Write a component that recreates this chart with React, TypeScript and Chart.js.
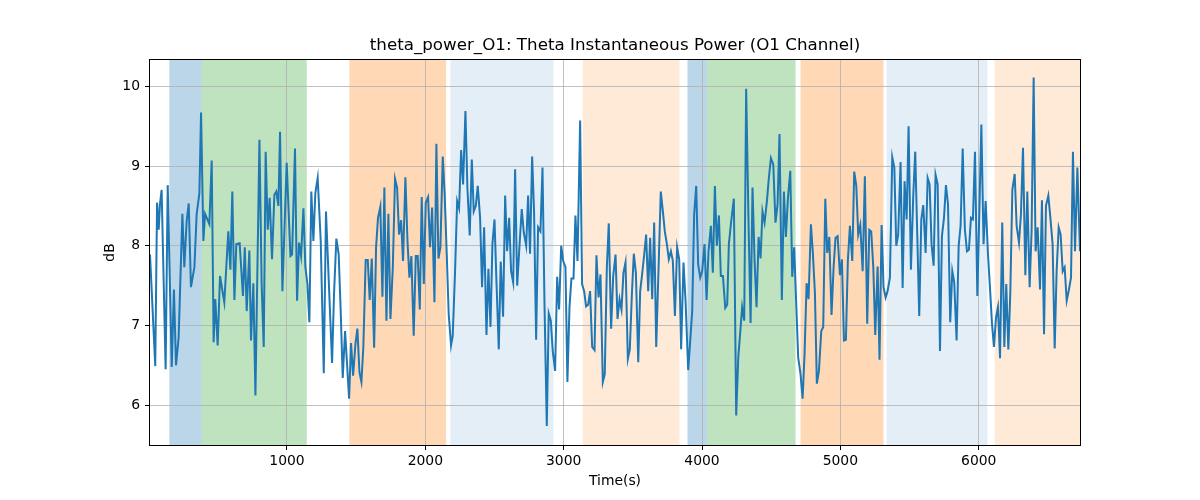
import React, { useEffect, useRef } from "react";
import { Chart, registerables } from "chart.js";

Chart.register(...registerables);

const titleText = "theta_power_O1: Theta Instantaneous Power (O1 Channel)";
const xLabel = "Time(s)";
const yLabel = "dB";

const xTicks = [1000, 2000, 3000, 4000, 5000, 6000];
const yTicks = [6, 7, 8, 9, 10];
const xMin = 10;
const xMax = 6732;
const yMin = 5.5;
const yMax = 10.33;

const times = [
  10, 48, 61, 73, 82, 94, 123, 138, 167, 183, 198, 217, 244, 258, 275, 290, 306, 331, 347, 367,
  379, 396, 408, 439, 456, 470, 482, 499, 516, 547, 576, 591, 605, 620, 634, 658, 682, 695, 709, 728,
  740, 757, 772, 801, 817, 832, 846, 861, 875, 892, 909, 923, 938, 950, 967, 998, 1025, 1037, 1058, 1073,
  1087, 1102, 1119, 1133, 1148, 1162, 1176, 1191, 1205, 1222, 1244, 1266, 1282, 1302, 1326, 1340, 1357, 1374, 1389, 1403,
  1420, 1430, 1449, 1463, 1478, 1495, 1509, 1524, 1538, 1552, 1569, 1584, 1598, 1613, 1630, 1644, 1658, 1675, 1690, 1704,
  1719, 1733, 1748, 1765, 1781, 1796, 1810, 1825, 1839, 1856, 1871, 1885, 1899, 1916, 1931, 1945, 1960, 1974, 1989, 2003,
  2020, 2034, 2049, 2066, 2080, 2095, 2109, 2126, 2140, 2155, 2169, 2186, 2198, 2215, 2230, 2244, 2259, 2273, 2290, 2304,
  2321, 2336, 2350, 2365, 2379, 2396, 2410, 2425, 2442, 2456, 2471, 2485, 2500, 2514, 2531, 2545, 2562, 2577, 2591, 2606,
  2620, 2635, 2649, 2664, 2680, 2697, 2712, 2729, 2743, 2757, 2772, 2786, 2801, 2815, 2832, 2847, 2861, 2878, 2892, 2907,
  2921, 2938, 2953, 2967, 2982, 2996, 3013, 3027, 3042, 3056, 3071, 3085, 3100, 3119, 3133, 3148, 3162, 3177, 3191, 3206,
  3223, 3237, 3252, 3266, 3283, 3297, 3312, 3326, 3343, 3358, 3375, 3389, 3404, 3418, 3432, 3447, 3464, 3478, 3493, 3507,
  3522, 3539, 3553, 3567, 3582, 3596, 3611, 3625, 3640, 3654, 3669, 3686, 3702, 3717, 3731, 3746, 3760, 3775, 3789, 3804,
  3820, 3835, 3849, 3866, 3881, 3900, 3914, 3929, 3943, 3958, 3972, 3987, 4001, 4018, 4033, 4047, 4064, 4078, 4093, 4107,
  4122, 4136, 4151, 4168, 4182, 4194, 4211, 4230, 4247, 4262, 4276, 4290, 4305, 4319, 4336, 4351, 4365, 4380, 4394, 4409,
  4423, 4437, 4452, 4469, 4483, 4498, 4515, 4531, 4546, 4560, 4577, 4592, 4606, 4621, 4638, 4652, 4666, 4681, 4695, 4712,
  4727, 4741, 4756, 4770, 4787, 4801, 4816, 4830, 4845, 4862, 4876, 4891, 4905, 4920, 4936, 4951, 4965, 4980, 4997, 5011,
  5026, 5040, 5054, 5069, 5086, 5100, 5115, 5129, 5144, 5161, 5177, 5194, 5209, 5223, 5238, 5252, 5269, 5283, 5298, 5312,
  5327, 5341, 5358, 5375, 5390, 5404, 5418, 5435, 5450, 5464, 5479, 5493, 5510, 5527, 5541, 5556, 5570, 5585, 5599, 5616,
  5631, 5645, 5659, 5674, 5688, 5703, 5720, 5734, 5749, 5763, 5778, 5794, 5809, 5823, 5840, 5855, 5869, 5884, 5900, 5915,
  5929, 5944, 5958, 5973, 5990, 6004, 6019, 6035, 6050, 6067, 6081, 6096, 6110, 6125, 6139, 6154, 6170, 6185, 6199, 6214,
  6228, 6243, 6260, 6274, 6291, 6305, 6320, 6337, 6351, 6368, 6382, 6397, 6411, 6426, 6443, 6457, 6472, 6486, 6503, 6518,
  6534, 6549, 6563, 6578, 6592, 6607, 6621, 6636, 6650, 6667, 6681, 6696, 6713, 6732,
];

const thetaPower = [
  7.89, 6.49, 8.54, 8.20, 8.52, 8.70, 6.45, 8.76, 6.48, 7.45, 6.50, 6.85, 8.40, 7.73, 8.31, 8.53, 7.48, 7.73, 8.39, 8.66,
  9.67, 8.06, 8.40, 8.27, 9.07, 6.79, 7.33, 6.75, 7.62, 7.29, 8.18, 7.70, 8.68, 7.32, 8.02, 8.03, 7.37, 7.98, 7.18, 7.94,
  6.81, 7.53, 6.12, 9.33, 7.52, 6.73, 9.18, 8.20, 8.60, 7.83, 8.64, 8.68, 8.50, 9.43, 7.43, 9.04, 7.87, 7.89, 9.22, 7.31,
  8.04, 7.87, 8.47, 7.73, 7.52, 7.04, 8.68, 8.06, 8.66, 8.85, 8.06, 6.40, 8.43, 7.56, 6.53, 7.39, 8.09, 7.89, 7.14, 6.34,
  6.93, 6.64, 6.08, 6.78, 6.37, 6.77, 6.96, 6.41, 6.29, 6.73, 7.82, 7.82, 7.32, 7.84, 6.72, 7.98, 8.35, 8.49, 7.36, 8.73,
  7.06, 8.40, 7.08, 7.73, 8.84, 8.73, 8.14, 8.32, 7.81, 8.86, 8.06, 7.60, 7.87, 6.87, 7.87, 7.87, 7.20, 8.61, 7.52, 8.54,
  8.61, 7.98, 8.48, 7.29, 9.28, 7.84, 7.98, 9.12, 8.64, 7.89, 7.14, 6.75, 6.87, 7.68, 8.56, 8.47, 9.20, 8.77, 9.69, 8.73,
  8.13, 9.08, 8.43, 8.50, 8.75, 8.35, 7.48, 8.23, 6.88, 7.71, 6.98, 8.02, 8.33, 7.56, 6.70, 7.80, 7.11, 8.63, 7.93, 8.35,
  7.68, 7.54, 8.96, 7.50, 7.98, 8.46, 8.16, 8.00, 8.63, 7.90, 9.12, 8.43, 6.82, 8.23, 8.18, 8.98, 7.31, 5.74, 7.15, 7.06,
  6.68, 6.43, 7.61, 7.20, 8.00, 7.81, 7.73, 6.29, 7.23, 7.59, 7.59, 8.38, 7.81, 9.57, 7.52, 7.43, 7.24, 7.26, 7.43, 6.73,
  6.69, 7.88, 7.35, 7.64, 6.29, 6.39, 7.73, 8.28, 6.96, 7.62, 7.89, 7.08, 7.33, 7.20, 7.66, 7.79, 6.58, 6.70, 7.39, 7.90,
  7.66, 6.54, 7.43, 7.64, 7.89, 8.14, 7.43, 8.10, 7.33, 8.29, 6.73, 7.73, 8.68, 8.43, 8.18, 8.02, 7.83, 7.93, 7.81, 7.12,
  7.98, 7.83, 6.70, 7.79, 7.31, 6.44, 6.79, 7.18, 8.39, 8.75, 7.77, 7.60, 7.68, 8.02, 7.32, 7.93, 8.25, 7.66, 8.75, 8.00,
  8.38, 7.62, 7.62, 7.22, 7.26, 8.02, 8.31, 8.59, 5.87, 6.60, 6.91, 7.23, 7.06, 9.97, 8.31, 7.03, 8.73, 7.81, 7.23, 8.11,
  7.84, 8.43, 8.29, 8.56, 8.85, 9.10, 9.02, 8.29, 8.52, 9.40, 7.32, 8.68, 8.11, 8.60, 8.94, 7.61, 7.98, 7.27, 6.60, 6.39,
  6.08, 6.64, 7.53, 7.33, 8.27, 7.91, 7.41, 6.27, 6.43, 6.93, 6.98, 8.59, 7.91, 8.11, 7.13, 7.73, 8.10, 8.12, 7.63, 7.83,
  6.81, 6.82, 7.81, 8.25, 7.81, 8.93, 8.75, 8.14, 8.26, 7.68, 8.87, 7.02, 8.20, 8.18, 7.73, 6.88, 7.74, 6.57, 8.26, 7.48,
  7.35, 7.43, 7.60, 9.11, 8.98, 8.00, 8.14, 9.05, 7.47, 8.81, 8.33, 9.50, 7.70, 8.64, 9.18, 8.12, 7.12, 8.33, 8.51, 7.91,
  8.85, 8.77, 8.02, 7.75, 8.89, 8.77, 6.68, 8.12, 8.35, 8.76, 8.52, 7.04, 7.68, 7.54, 6.81, 8.00, 8.25, 9.22, 8.20, 7.93,
  7.95, 8.35, 8.33, 9.18, 7.37, 8.39, 9.52, 8.02, 8.56, 7.89, 7.48, 7.02, 6.73, 7.10, 7.23, 6.59, 8.29, 6.73, 7.52, 6.70,
  7.39, 8.70, 8.90, 8.25, 8.04, 8.39, 9.23, 7.63, 8.68, 7.48, 8.18, 10.11, 7.93, 8.23, 7.45, 8.57, 6.89, 8.50, 8.63, 8.35,
  8.02, 6.71, 7.68, 8.23, 8.14, 7.68, 7.73, 7.31, 7.43, 7.60, 9.18, 7.93, 8.98, 7.93,
];

// shaded epochs: start, end, colour
const spanStarts = [150, 384, 1451, 2181, 3138, 3895, 4037, 4712, 5334, 6115];
const spanEnds = [384, 1143, 2150, 2926, 3837, 4037, 4676, 5312, 6062, 6732];
const spanColors = [
  "rgba(31,119,180,0.3)",
  "rgba(44,160,44,0.3)",
  "rgba(255,127,14,0.3)",
  "rgba(31,119,180,0.12)",
  "rgba(255,127,14,0.16)",
  "rgba(31,119,180,0.3)",
  "rgba(44,160,44,0.3)",
  "rgba(255,127,14,0.3)",
  "rgba(31,119,180,0.12)",
  "rgba(255,127,14,0.16)",
];

const FONT = "'DejaVu Sans', sans-serif";

const spanPlugin = {
  id: "spans",
  beforeDraw(chart: any) {
    const { ctx, chartArea } = chart;
    const xs = chart.scales.x;
    ctx.save();
    for (let i = 0; i < spanStarts.length; i++) {
      const x0 = xs.getPixelForValue(spanStarts[i]);
      const x1 = xs.getPixelForValue(spanEnds[i]);
      ctx.fillStyle = spanColors[i];
      ctx.fillRect(x0, chartArea.top, x1 - x0, chartArea.bottom - chartArea.top);
    }
    ctx.restore();
  },
  afterDraw(chart: any) {
    const { ctx, chartArea } = chart;
    ctx.save();
    ctx.strokeStyle = "#000";
    ctx.lineWidth = 1;
    ctx.strokeRect(
      Math.round(chartArea.left) - 0.5,
      Math.round(chartArea.top) - 0.5,
      Math.round(chartArea.right - chartArea.left) + 1,
      Math.round(chartArea.bottom - chartArea.top) + 1
    );
    ctx.fillStyle = "#000";
    ctx.textAlign = "center";
    ctx.textBaseline = "middle";
    const cx = (chartArea.left + chartArea.right) / 2;
    const cy = (chartArea.top + chartArea.bottom) / 2;
    ctx.font = `16.7px ${FONT}`;
    ctx.fillText(titleText, cx, 46);
    ctx.font = `13.9px ${FONT}`;
    ctx.fillText(xLabel, cx, 481);
    ctx.save();
    ctx.translate(110, cy);
    ctx.rotate(-Math.PI / 2);
    ctx.fillText(yLabel, 0, 0);
    ctx.restore();
    ctx.restore();
  },
};

export default function App() {
  const ref = useRef<HTMLCanvasElement | null>(null);
  useEffect(() => {
    document.body.style.margin = "0";
    const canvas = ref.current;
    if (!canvas) return;
    const points = times.map((t, i) => ({ x: t, y: thetaPower[i] }));
    const chart = new Chart(canvas, {
      type: "line",
      data: {
        datasets: [
          {
            data: points,
            borderColor: "#1f77b4",
            borderWidth: 2,
            pointRadius: 0,
            tension: 0,
            fill: false,
          },
        ],
      },
      options: {
        responsive: false,
        animation: false,
        devicePixelRatio: 1,
        layout: { padding: { top: 60, right: 120, left: 0, bottom: 0 } },
        plugins: { legend: { display: false }, tooltip: { enabled: false }, title: { display: false } },
        scales: {
          x: {
            type: "linear",
            min: xMin,
            max: xMax,
            afterBuildTicks: (s: any) => {
              s.ticks = xTicks.map((v) => ({ value: v }));
            },
            afterFit: (s: any) => {
              s.height = 55;
            },
            grid: { color: "#b0b0b0", lineWidth: 0.8, tickColor: "#000", tickLength: 5, tickWidth: 1 },
            border: { display: false },
            ticks: {
              color: "#000",
              font: { family: FONT, size: 13.9 },
              padding: 3,
              maxRotation: 0,
              callback: (v: any) => String(v),
            },
          },
          y: {
            type: "linear",
            min: yMin,
            max: yMax,
            afterBuildTicks: (s: any) => {
              s.ticks = yTicks.map((v) => ({ value: v }));
            },
            afterFit: (s: any) => {
              s.width = 150;
            },
            grid: { color: "#b0b0b0", lineWidth: 0.8, tickColor: "#000", tickLength: 5, tickWidth: 1 },
            border: { display: false },
            ticks: {
              color: "#000",
              font: { family: FONT, size: 13.9 },
              padding: 5,
              callback: (v: any) => String(v),
            },
          },
        },
      },
      plugins: [spanPlugin],
    });
    return () => chart.destroy();
  }, []);
  return <canvas ref={ref} width={1200} height={500} style={{ display: "block" }} />;
}
